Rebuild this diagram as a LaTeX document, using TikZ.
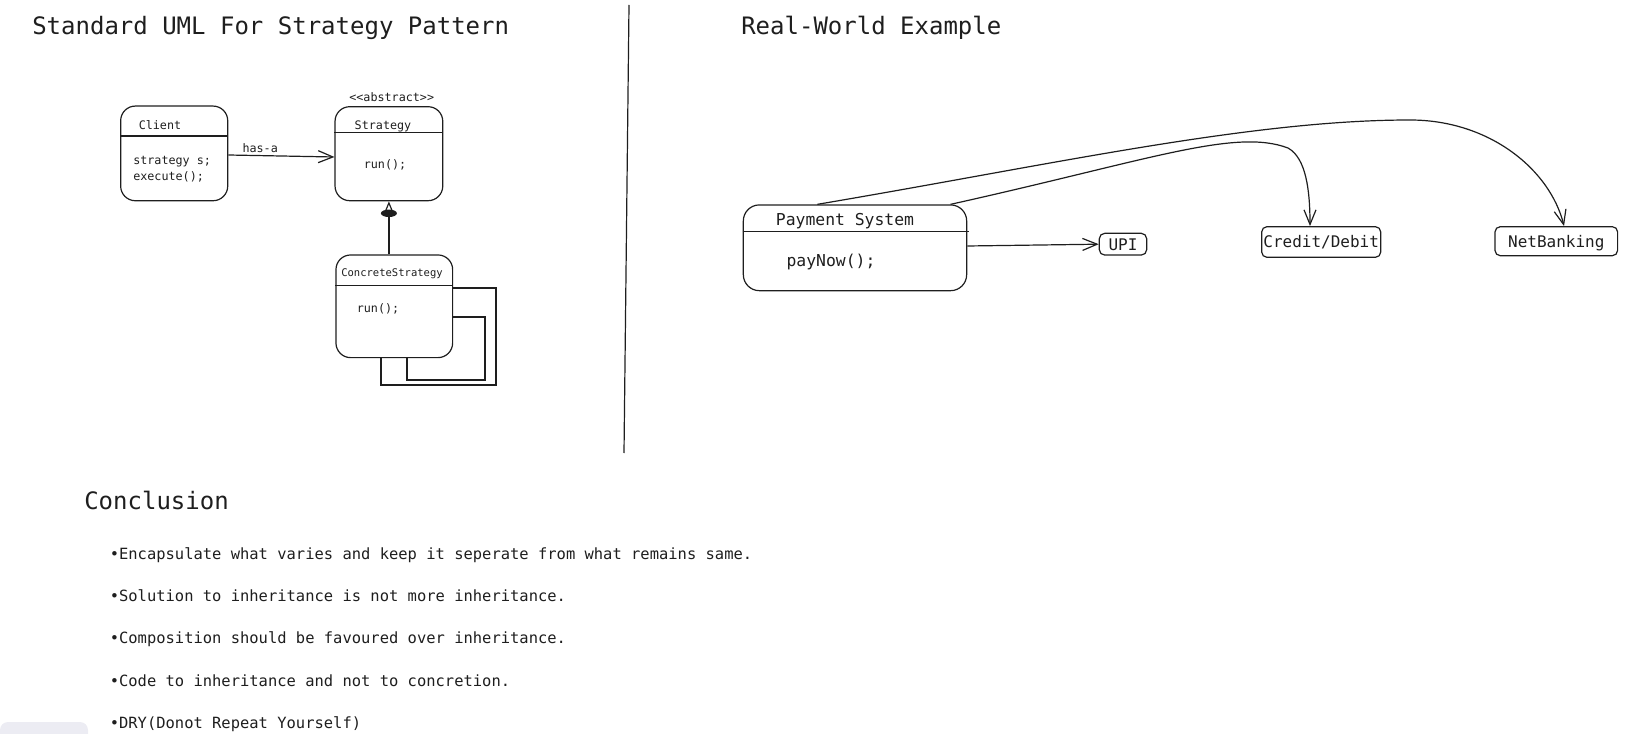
\documentclass[tikz,border=0pt]{standalone}
\usepackage{fontspec}
\setmainfont{DejaVu Sans Mono}
\usetikzlibrary{arrows.meta}
\definecolor{xsline}{RGB}{30,30,30}
\definecolor{xspatch}{RGB}{236,236,243}

\begin{document}
\begin{tikzpicture}[x=0.75pt, y=-0.75pt,
    line/.style={draw=xsline, line width=0.9pt},
    umlbox/.style={line, rounded corners=11pt, inner sep=0pt},
    tagbox/.style={line, rounded corners=4pt, inner sep=1pt, text=xsline, text height=0.95em, text depth=0.05em, font=\fontsize{12}{14}\selectfont},
    umltxt/.style={inner sep=0pt, text=xsline, font=\fontsize{8.8}{12}\selectfont},
    bigtxt/.style={inner sep=0pt, text=xsline, font=\fontsize{12.3}{15}\selectfont},
    head/.style={inner sep=0pt, anchor=base west, text=xsline, font=\fontsize{18}{22}\selectfont},
    point/.style={inner sep=0pt, anchor=base west, text=xsline, font=\fontsize{11.6}{14}\selectfont},
    assoc/.style={line, -{Straight Barb[length=11pt, width=9pt]}},
    inherit/.style={line, -{Triangle[open, length=10pt, width=8pt]}}]
    \useasboundingbox (0,0) rectangle (1650,734);
    \fill[xspatch, rounded corners=6pt] (0,734) -- (0,722) -- (88,722) [sharp corners] -- (88,734) -- cycle;

    \node[head] (umltitle) at (32,34.5) {Standard UML For Strategy Pattern};
    \node[head] (realtitle) at (741,34.5) {Real-World Example};
    \node[head] (conctitle) at (84,509) {Conclusion};
    \draw[line] (629,5) -- (624,453);

    \node[umlbox, minimum width=80.3pt, minimum height=71pt] (client) at (174.2,153.4) {};
    \draw[line] (client.west |- 0,136) -- (client.east |- 0,136);
    \node[umltxt] (clientname) at (160,125) {Client};
    \node[umltxt, anchor=west, align=left] (clientops) at (133,169) {strategy s;\\execute();};

    \node[umlbox, minimum width=80.8pt, minimum height=70.5pt] (strategy) at (388.9,153.7) {};
    \draw[line] (strategy.west |- 0,132.7) -- (strategy.east |- 0,132.7);
    \node[umltxt] (abstract) at (391.7,96.7) {<{}<abstract>{}>};
    \node[umltxt] (strategyname) at (383,126.7) {Strategy};
    \node[umltxt] (strategyops) at (385,165) {run();};

    \node[umlbox, minimum width=87.5pt, minimum height=77pt] (concrete) at (394.3,306.3) {};
    \draw[line] (concrete.west |- 0,285.7) -- (concrete.east |- 0,285.7);
    \node[umltxt, font=\fontsize{7.9}{10}\selectfont] (concretename) at (392,273.3) {ConcreteStrategy};
    \node[umltxt] (concreteops) at (378,309) {run();};

    \draw[assoc] (client.east |- 0,155) -- node[umltxt, pos=0.3, above=1.5pt] (hasa) {has-a} (strategy.west |- 0,157);
    \draw[inherit] (concrete.north -| strategy.south) -- (strategy.south);
    \fill[xsline] ([yshift=-9pt]strategy.south) ellipse [x radius=6pt, y radius=2.8pt];
    \draw[line] (concrete.east |- 0,288) -- (496,288) |- (381,385) -- (concrete.south -| 381,0);
    \draw[line] (concrete.east |- 0,317) -- (485,317) |- (407,380) -- (concrete.south -| 407,0);

    \node[umlbox, rounded corners=12pt, minimum width=167.5pt, minimum height=64.3pt] (pay) at (855,247.8) {};
    \draw[line] (pay.west |- 0,231.7) -- ([xshift=1pt]pay.east |- 0,231.7);
    \node[bigtxt] (payname) at (845,220.7) {Payment System};
    \node[bigtxt] (payops) at (831,261.7) {payNow();};

    \node[tagbox, minimum width=35.5pt, minimum height=16.3pt] (upi) at (1123,244.2) {UPI};
    \node[tagbox, minimum width=89.3pt, minimum height=23pt] (credit) at (1321.2,242) {Credit/Debit};
    \node[tagbox, minimum width=92pt, minimum height=21.8pt] (netbank) at (1556.3,241.2) {NetBanking};

    \draw[assoc] (pay.east |- 0,246) -- (upi.west);
    \draw[assoc] ([xshift=-12.5pt]pay.north east) .. controls (1150,160) and (1235,128) .. (1288,148)
      .. controls (1306,158) and (1310,190) .. ([xshift=-8.4pt]credit.north);
    \draw[assoc] ([xshift=56pt]pay.north west) .. controls (1050,165) and (1250,120) .. (1410,120)
      .. controls (1490,120) and (1550,170) .. ([xshift=5.8pt]netbank.north);

    \foreach \pt [count=\i] in {Encapsulate what varies and keep it seperate from what remains same.,
        Solution to inheritance is not more inheritance.,
        Composition should be favoured over inheritance.,
        Code to inheritance and not to concretion.,
        DRY(Donot Repeat Yourself)}
      \node[point] (pt\i) at (109.5,{559.1+42.4*(\i-1)}) {\textbullet\pt};
\end{tikzpicture}
\end{document}
